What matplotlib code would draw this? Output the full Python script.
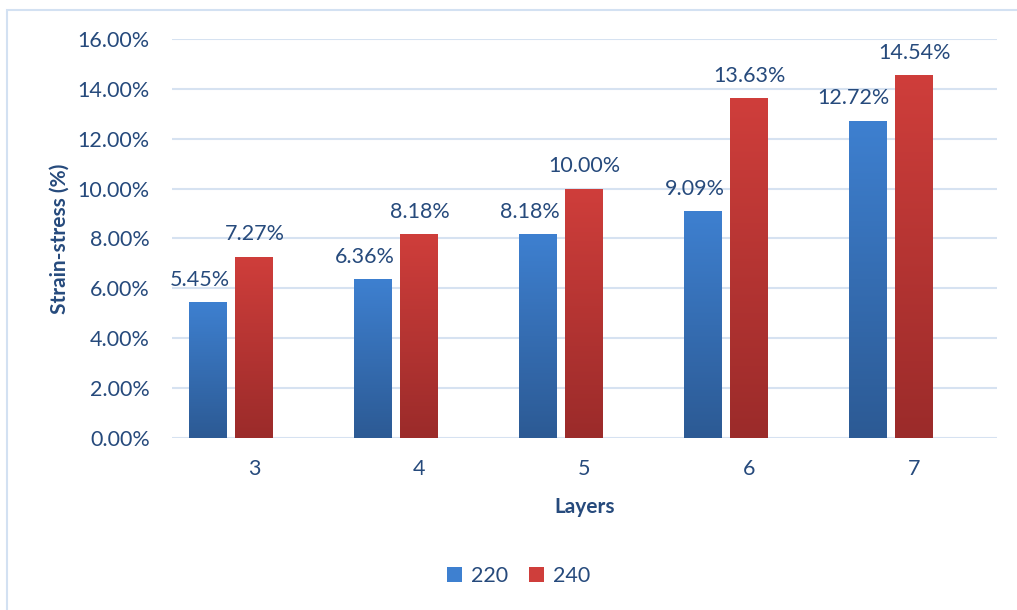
import numpy as np
import matplotlib.pyplot as plt
from matplotlib.patches import Rectangle
from matplotlib.colors import LinearSegmentedColormap
from matplotlib.ticker import FuncFormatter
import matplotlib.patheffects as pe

plt.rcParams['font.family'] = ['Lato', 'DejaVu Sans']

layers = ['3', '4', '5', '6', '7']
series_names = ['220', '240']
strain_220 = [5.45, 6.36, 8.18, 9.09, 12.72]
strain_240 = [7.27, 8.18, 10.00, 13.63, 14.54]

txt_color = '#264a7c'
grid_color = '#d6e2f1'
blue_top, blue_bot = '#3e80d0', '#2c5a94'
red_top, red_bot = '#cf3e3b', '#9b2b2a'
fs = 15.5

fig = plt.figure(figsize=(10.17, 6.10), dpi=100)
ax = fig.add_axes([0.1691, 0.2820, 0.8112, 0.6541])

# outer chart frame (runs off the right and bottom edges)
fig.patches.append(Rectangle((7 / 1017, -0.05), 1.1, 1 - 10 / 610 + 0.05,
                             transform=fig.transFigure, fill=False,
                             edgecolor='#d3e1f2', linewidth=1.5))

x = np.arange(len(layers))
width = 0.23
offsets = [-0.28, 0.0]


def gradient_bar(ax, xc, h, c_top, c_bot):
    left = xc - width / 2
    rect = Rectangle((left, 0), width, h, facecolor='none', edgecolor='none')
    ax.add_patch(rect)
    # soft shadow behind the bar
    sh = Rectangle((left, 0), width, h, facecolor='white', edgecolor='none', zorder=1.5,
                   path_effects=[pe.SimplePatchShadow(offset=(0, -2), shadow_rgbFace='#888888', alpha=0.35),
                                 pe.Normal()])
    ax.add_patch(sh)
    cmap = LinearSegmentedColormap.from_list('g', [c_bot, c_top])
    grad = np.linspace(0, 1, 256).reshape(-1, 1)
    im = ax.imshow(grad, cmap=cmap, origin='lower', aspect='auto',
                   extent=(left, left + width, 0, h), zorder=2)
    im.set_clip_path(rect)


for i in range(len(layers)):
    gradient_bar(ax, x[i] + offsets[0], strain_220[i], blue_top, blue_bot)
    gradient_bar(ax, x[i] + offsets[1], strain_240[i], red_top, red_bot)
    ax.text(x[i] + offsets[0] + width / 2 + 0.015, strain_220[i] + 0.5, f'{strain_220[i]:.2f}%',
            ha='right', va='bottom', fontsize=fs, color=txt_color)
    ax.text(x[i] + offsets[1], strain_240[i] + 0.5, f'{strain_240[i]:.2f}%',
            ha='center', va='bottom', fontsize=fs, color=txt_color)

ax.set_xlim(-0.5, 4.5)
ax.set_ylim(0, 16)
ax.set_yticks(np.arange(0, 17, 2))
ax.yaxis.set_major_formatter(FuncFormatter(lambda v, p: f'{v:.2f}%'))
ax.set_xticks(x)
ax.set_xticklabels(layers)
ax.grid(axis='y', color=grid_color, linewidth=1.5, zorder=0)
ax.set_axisbelow(True)
for s in ax.spines.values():
    s.set_visible(False)
ax.tick_params(length=0, labelsize=fs, labelcolor=txt_color)
ax.tick_params(axis='y', pad=16)
ax.tick_params(axis='x', pad=15)

ax.set_ylabel('Strain-stress (%)', fontsize=15, fontweight='bold', color=txt_color, labelpad=6)
ax.set_xlabel('Layers', fontsize=15, fontweight='bold', color=txt_color, labelpad=13)

handles = [Rectangle((0, 0), 1, 1, facecolor=blue_top), Rectangle((0, 0), 1, 1, facecolor=red_top)]
fig.legend(handles, series_names, loc='center', bbox_to_anchor=(0.51, 0.056), ncol=2,
           frameon=False, fontsize=fs, labelcolor=txt_color, handlelength=0.7,
           handleheight=0.7, handletextpad=0.4, columnspacing=1.0)

fig.savefig('out.png', dpi=100)
